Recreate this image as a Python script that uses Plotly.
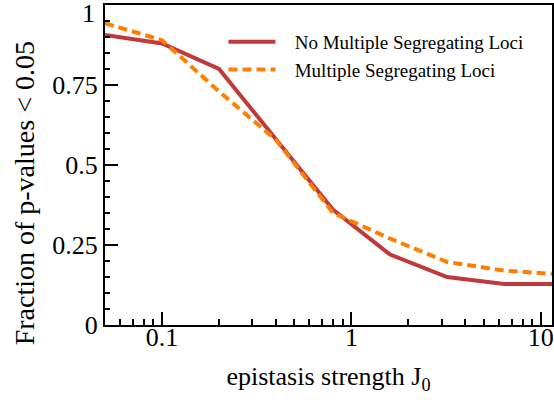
import plotly.graph_objects as go
import numpy as np

# Data
J0 = [0.05, 0.1, 0.2, 0.4, 0.8, 1.6, 3.2, 6.4, 12.8]
no_multi = [0.906, 0.88, 0.80, 0.58, 0.36, 0.22, 0.15, 0.128, 0.128]
multi = [0.943, 0.89, 0.73, 0.578, 0.35, 0.27, 0.197, 0.17, 0.158]

series_names = ["No Multiple Segregating Loci", "Multiple Segregating Loci"]
x_tickvals = [0.1, 1, 10]
x_ticktext = ["0.1", "1", "10"]
y_tickvals = [0, 0.25, 0.5, 0.75]
y_ticktext = ["0", "0.25", "0.5", "0.75"]

FONT = "Liberation Serif"
PAD = "\u00a0\u00a0\u00a0"

fig = go.Figure()
fig.add_trace(go.Scatter(x=J0, y=no_multi, mode="lines", name=PAD + series_names[0],
                         line=dict(color="#c0393b", width=4)))
fig.add_trace(go.Scatter(x=J0, y=multi, mode="lines", name=PAD + series_names[1],
                         line=dict(color="#ff8000", width=4, dash="9px,5px")))

x_minor = [m * 10.0 ** d for d in (-2, -1, 0, 1) for m in range(2, 10)]
x_minor = [v for v in x_minor if 0.05 <= v <= 11.5 and v not in (0.1, 1, 10)]
y_minor = [round(i * 0.05, 2) for i in range(21)]

fig.update_layout(
    width=554, height=400,
    margin=dict(l=105, r=0, t=5, b=75),
    paper_bgcolor="white", plot_bgcolor="white",
    font=dict(family=FONT, color="black"),
    showlegend=True,
    legend=dict(x=(224 - 105) / 449, y=1 - (23 - 5) / 320, xanchor="left", yanchor="top",
                font=dict(size=19, family=FONT, color="black"), bgcolor="rgba(0,0,0,0)",
                itemwidth=47, tracegroupgap=0),
    xaxis=dict(type="log", range=[np.log10(0.05), np.log10(11.45)],
               showgrid=False, zeroline=False, showline=True, linecolor="black", linewidth=2,
               mirror=True, ticks="inside", ticklen=13, tickwidth=1.5, tickcolor="black",
               tickvals=x_tickvals, ticktext=x_ticktext, tickfont=dict(size=26, family=FONT, color="black"),
               ticklabelstandoff=-12,
               minor=dict(tickvals=x_minor, ticks="inside", ticklen=6, tickwidth=1.5, tickcolor="black"),
               title=dict(text="epistasis strength J<sub>0</sub>", font=dict(size=26, family=FONT, color="black"), standoff=16)),
    yaxis=dict(range=[0, 1], showgrid=False, zeroline=False, showline=True, linecolor="black", linewidth=2,
               mirror=True, ticks="inside", ticklen=13, tickwidth=1.5, tickcolor="black",
               tickvals=y_tickvals, ticktext=y_ticktext, tickfont=dict(size=26, family=FONT, color="black"),
               minor=dict(tickvals=y_minor, ticks="inside", ticklen=5, tickwidth=1.5, tickcolor="black")),
    annotations=[
        dict(text="Fraction of p-values < 0.05", textangle=-90, xref="paper", yref="paper",
             x=-(105 - 24) / 449, y=(325 - 193) / 320, xanchor="center", yanchor="middle",
             showarrow=False, font=dict(size=28, family=FONT, color="black")),
        dict(text="1", xref="paper", yref="y", x=-(105 - 97) / 449, y=1, xanchor="right", yanchor="top",
             showarrow=False, font=dict(size=26, family=FONT, color="black"), yshift=8),
    ],
)

fig.write_html("out.html")
